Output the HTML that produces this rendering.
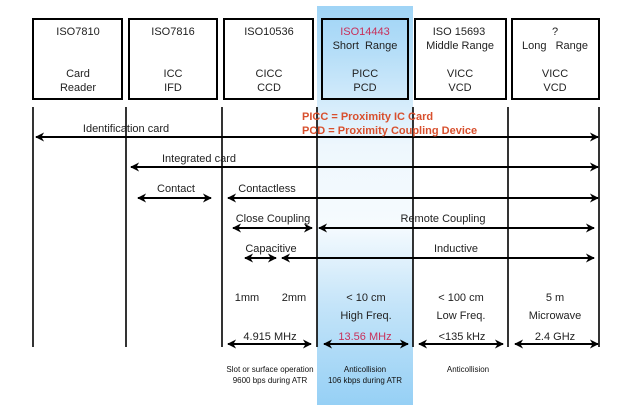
<!DOCTYPE html>
<html><head><style>
html,body{margin:0;padding:0;background:#fff;width:641px;height:409px;overflow:hidden}
text{font-family:"Liberation Sans",sans-serif;}
</style></head><body>
<svg width="641" height="409" viewBox="0 0 641 409" xmlns="http://www.w3.org/2000/svg">
<defs>
<linearGradient id="g" x1="0" y1="0" x2="0" y2="1">
<stop offset="0" stop-color="#9fd4f6"/>
<stop offset="0.12" stop-color="#b6def8"/>
<stop offset="0.35" stop-color="#eef7fd"/>
<stop offset="0.55" stop-color="#f6fbfe"/>
<stop offset="0.75" stop-color="#c4e4f9"/>
<stop offset="1" stop-color="#96d0f5"/>
</linearGradient>
<marker id="a" viewBox="0 0 10 10" refX="9" refY="5" markerWidth="4.5" markerHeight="4.5" orient="auto-start-reverse"><path d="M0,0 L10,5 L0,10 L3,5 z" fill="#000"/></marker>
</defs>
<rect x="317" y="6" width="96" height="399" fill="url(#g)"/>
<g fill="none" stroke="#000" stroke-width="2">
<rect x="33" y="19" width="89" height="80"/>
<rect x="129" y="19" width="88" height="80"/>
<rect x="224" y="19" width="89" height="80"/>
<rect x="322" y="19" width="86" height="80"/>
<rect x="415" y="19" width="91" height="80"/>
<rect x="512" y="19" width="87" height="80"/>
</g>
<g stroke="#000" stroke-width="1.6">
<line x1="33" y1="107" x2="33" y2="347"/>
<line x1="126" y1="107" x2="126" y2="347"/>
<line x1="222" y1="107" x2="222" y2="347"/>
<line x1="317" y1="107" x2="317" y2="347"/>
<line x1="413" y1="107" x2="413" y2="347"/>
<line x1="508" y1="107" x2="508" y2="347"/>
<line x1="599" y1="107" x2="599" y2="347"/>
</g>
<g stroke="#000" stroke-width="2" marker-start="url(#a)" marker-end="url(#a)">
<line x1="36" y1="137" x2="598" y2="137"/>
<line x1="131" y1="167" x2="598" y2="167"/>
<line x1="138" y1="198" x2="211" y2="198"/>
<line x1="228" y1="198" x2="598" y2="198"/>
<line x1="233" y1="228" x2="312" y2="228"/>
<line x1="319" y1="228" x2="594" y2="228"/>
<line x1="245" y1="258" x2="276" y2="258"/>
<line x1="282" y1="258" x2="594" y2="258"/>
<line x1="228" y1="344" x2="311" y2="344"/>
<line x1="324" y1="344" x2="408" y2="344"/>
<line x1="419" y1="344" x2="503" y2="344"/>
<line x1="515" y1="344" x2="598" y2="344"/>
</g>
<g font-size="11" fill="#222" text-anchor="middle">
<text x="78" y="35">ISO7810</text><text x="78" y="77">Card</text><text x="78" y="91">Reader</text>
<text x="173" y="35">ISO7816</text><text x="173" y="77">ICC</text><text x="173" y="91">IFD</text>
<text x="269" y="35">ISO10536</text><text x="269" y="77">CICC</text><text x="269" y="91">CCD</text>
<text x="365" y="35" fill="#c8305a">ISO14443</text><text x="365" y="49" xml:space="preserve">Short  Range</text><text x="365" y="77">PICC</text><text x="365" y="91">PCD</text>
<text x="459" y="35">ISO 15693</text><text x="460" y="49">Middle Range</text><text x="460" y="77">VICC</text><text x="460" y="91">VCD</text>
<text x="555" y="35">?</text><text x="555" y="49" xml:space="preserve">Long   Range</text><text x="555" y="77">VICC</text><text x="555" y="91">VCD</text>
<text x="126" y="132">Identification card</text>
<text x="199" y="162">Integrated card</text>
<text x="176" y="192">Contact</text>
<text x="267" y="192">Contactless</text>
<text x="273" y="222">Close Coupling</text>
<text x="443" y="222">Remote Coupling</text>
<text x="271" y="252">Capacitive</text>
<text x="456" y="252">Inductive</text>
<text x="247" y="301">1mm</text><text x="294" y="301">2mm</text>
<text x="366" y="301">&lt; 10 cm</text><text x="366" y="319">High Freq.</text>
<text x="461" y="301">&lt; 100 cm</text><text x="461" y="319">Low Freq.</text>
<text x="555" y="301">5 m</text><text x="555" y="319">Microwave</text>
<text x="270" y="340">4.915 MHz</text>
<text x="365" y="340" fill="#c8305a">13.56 MHz</text>
<text x="462" y="340">&lt;135 kHz</text>
<text x="555" y="340">2.4 GHz</text>
</g>
<g font-size="8" fill="#111" text-anchor="middle">
<text x="270" y="372">Slot or surface operation</text><text x="270" y="383">9600 bps during ATR</text>
<text x="365" y="372">Anticollision</text><text x="365" y="383">106 kbps during ATR</text>
<text x="468" y="372">Anticollision</text>
</g>
<g font-size="11" font-weight="bold" fill="#d8502e">
<text x="302" y="120">PICC = Proximity IC Card</text>
<text x="302" y="134">PCD = Proximity Coupling Device</text>
</g>
</svg>
</body></html>
